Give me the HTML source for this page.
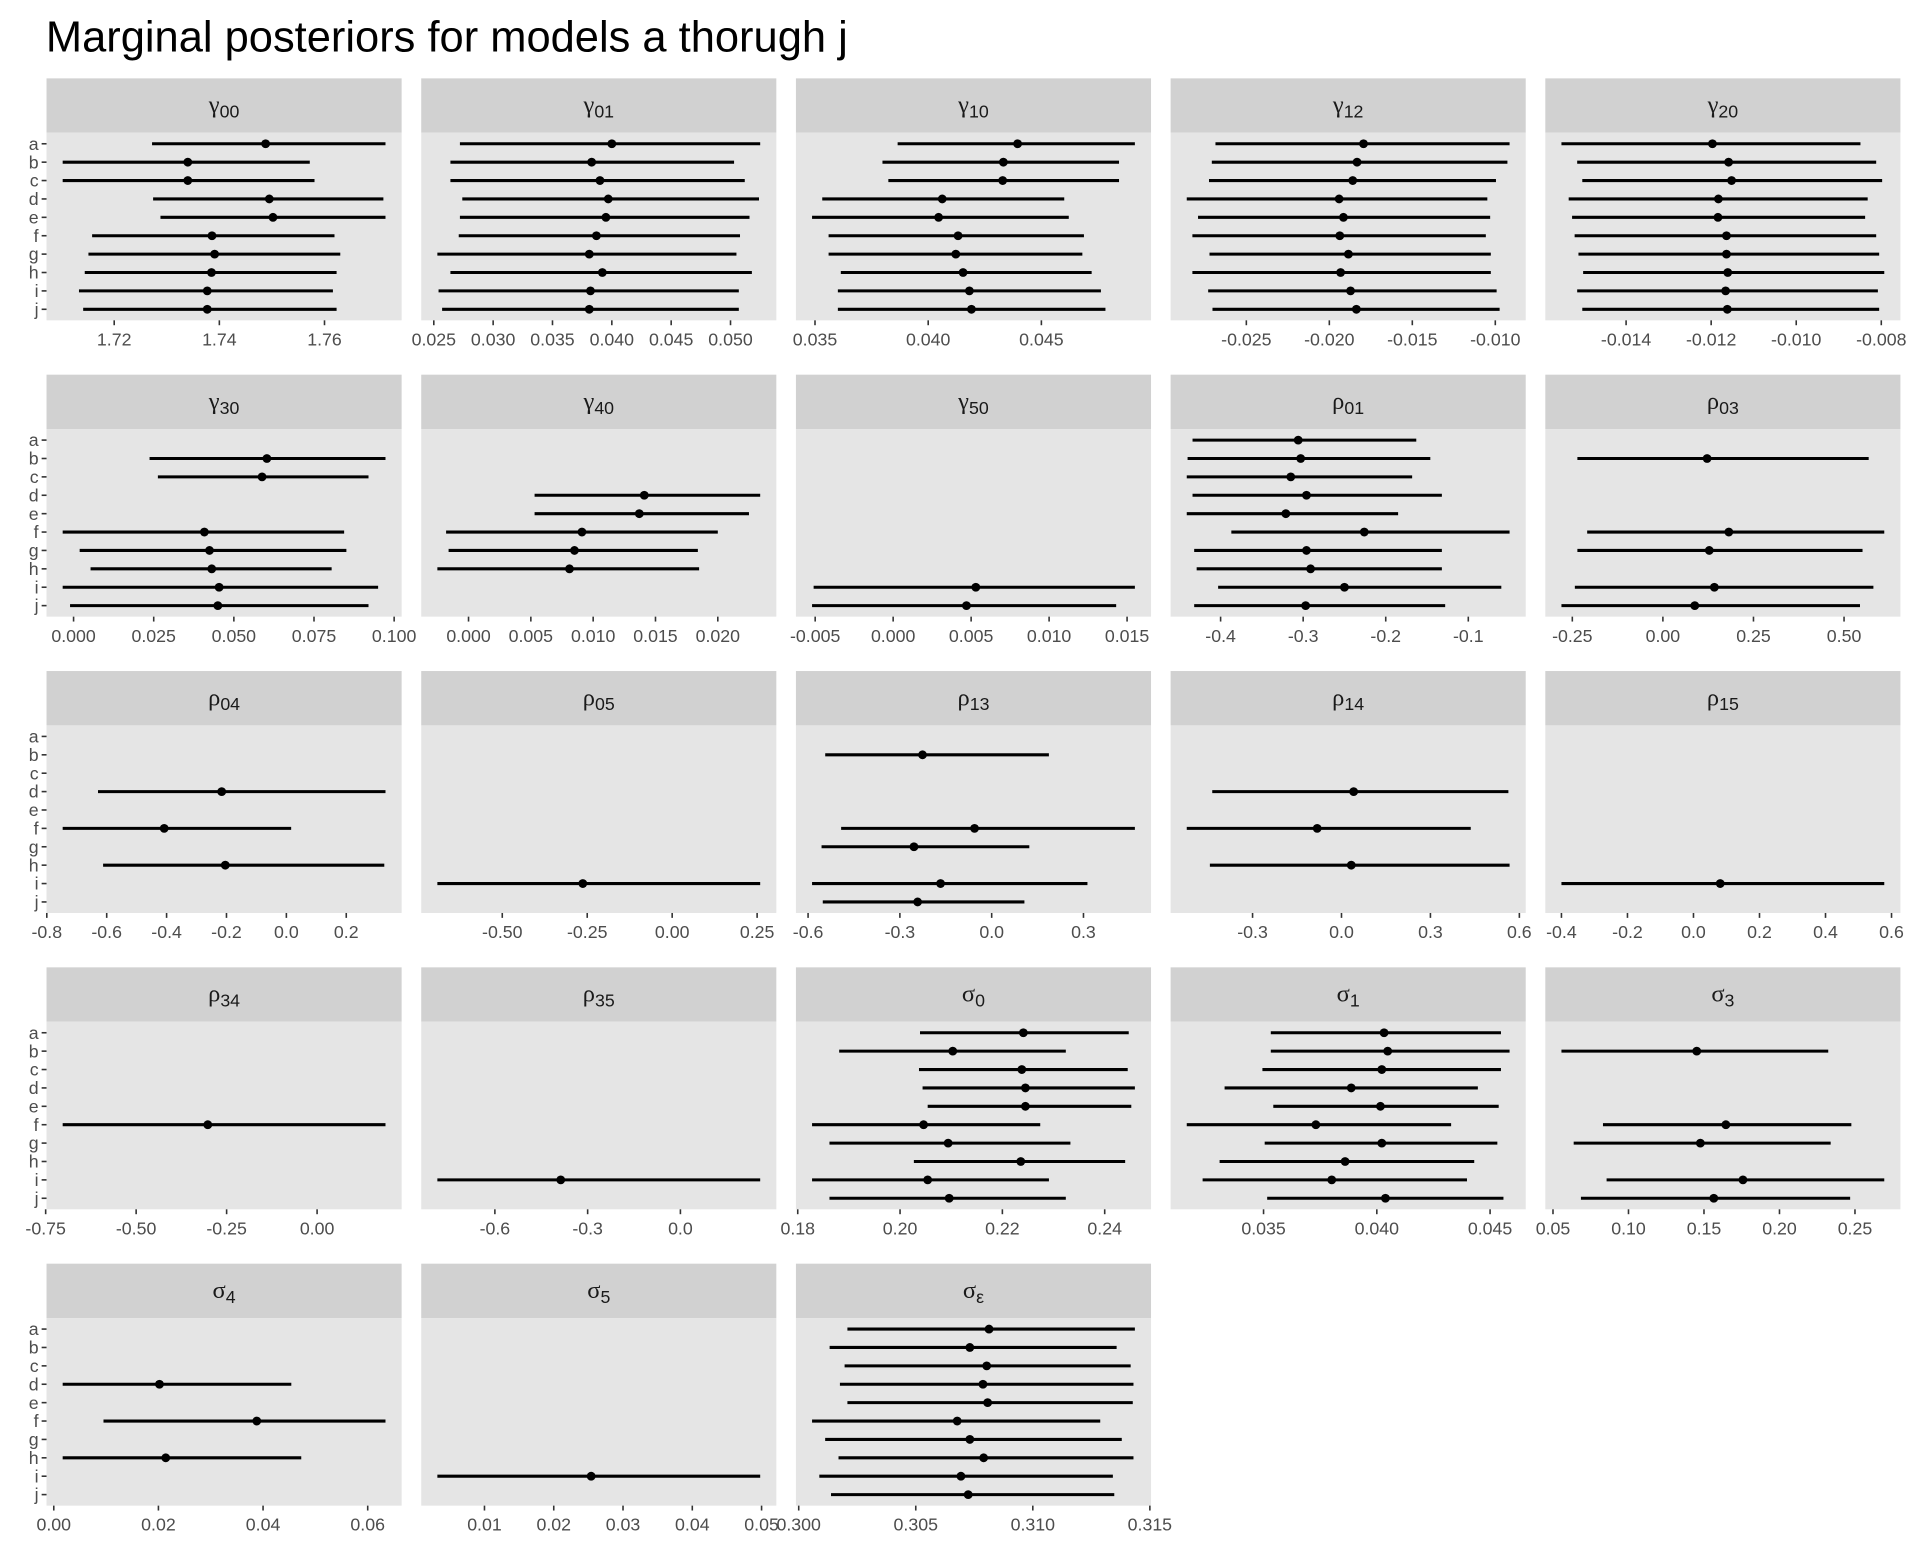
<!DOCTYPE html>
<html><head><meta charset="utf-8"><title>Marginal posteriors</title>
<style>html,body{margin:0;padding:0;background:#fff}svg{display:block}</style></head>
<body>
<svg id="chart" width="1920" height="1560" viewBox="0 0 1568 1274" xmlns="http://www.w3.org/2000/svg">
<rect x="0" y="0" width="1568" height="1274" fill="#ffffff"/>
<text x="37.5" y="42" font-family="Liberation Sans, sans-serif" font-size="35.5" fill="#000">Marginal posteriors for models a thorugh j</text>
<g id="panels"></g>
</svg>
<script>
const N = null;
const models = ['a','b','c','d','e','f','g','h','i','j'];

const g00Lo=[1.7272,1.7102,1.7102,1.7274,1.7288,1.7158,1.7151,1.7144,1.7133,1.7141];
const g00Mid=[1.7488,1.7340,1.7340,1.7495,1.7502,1.7386,1.7391,1.7385,1.7377,1.7377];
const g00Hi=[1.7716,1.7572,1.7581,1.7712,1.7716,1.7619,1.7630,1.7623,1.7616,1.7623];
const g00Ticks=[1.72,1.74,1.76];

const g01Lo=[.0272,.0264,.0264,.0274,.0272,.0271,.0253,.0264,.0254,.0257];
const g01Mid=[.0400,.0383,.0390,.0397,.0395,.0387,.0381,.0392,.0382,.0381];
const g01Hi=[.0525,.0503,.0512,.0524,.0516,.0508,.0505,.0518,.0507,.0507];
const g01Ticks=[.025,.030,.035,.040,.045,.050];

const g10Lo=[.03865,.03798,.03824,.03532,.03487,.03560,.03560,.03614,.03601,.03601];
const g10Mid=[.04395,.04332,.04329,.04062,.04046,.04132,.04122,.04154,.04182,.04191];
const g10Hi=[.04913,.04843,.04843,.04601,.04621,.04688,.04681,.04722,.04763,.04783];
const g10Ticks=[.035,.040,.045];

const g12Lo=[-.02686,-.02708,-.02725,-.02859,-.02791,-.02825,-.02722,-.02825,-.02730,-.02704];
const g12Mid=[-.01794,-.01833,-.01859,-.01941,-.01915,-.01937,-.01885,-.01932,-.01872,-.01837];
const g12Hi=[-.00914,-.00927,-.00996,-.01048,-.01031,-.01057,-.01027,-.01027,-.00992,-.00974];
const g12Ticks=[-.025,-.020,-.015,-.010];

const g20Lo=[-.01552,-.01515,-.01503,-.01535,-.01527,-.01521,-.01512,-.01501,-.01515,-.01503];
const g20Mid=[-.01197,-.01159,-.01152,-.01183,-.01184,-.01164,-.01164,-.01161,-.01166,-.01162];
const g20Hi=[-.00849,-.00812,-.00798,-.00832,-.00838,-.00812,-.00805,-.00793,-.00808,-.00805];
const g20Ticks=[-.014,-.012,-.010,-.008];

const g30Lo=[N,.0237,.0263,N,N,-.0034,.0019,.0053,-.0034,-.0011];
const g30Mid=[N,.0603,.0588,N,N,.0408,.0424,.0431,.0454,.0450];
const g30Hi=[N,.0973,.0920,N,N,.0844,.0851,.0805,.0950,.0920];
const g30Ticks=[0,.025,.05,.075,.1];

const g40Lo=[N,N,N,.0053,.0053,-.0018,-.0016,-.0025,N,N];
const g40Mid=[N,N,N,.0141,.0137,.0091,.0085,.0081,N,N];
const g40Hi=[N,N,N,.0234,.0225,.0200,.0184,.0185,N,N];
const g40Ticks=[0,.005,.010,.015,.020];

const g50Lo=[N,N,N,N,N,N,N,N,-.0051,-.0052];
const g50Mid=[N,N,N,N,N,N,N,N,.0053,.0047];
const g50Hi=[N,N,N,N,N,N,N,N,.0155,.0143];
const g50Ticks=[-.005,0,.005,.010,.015];

const r01Lo=[-.434,-.440,-.441,-.434,-.441,-.387,-.432,-.429,-.403,-.432];
const r01Mid=[-.306,-.303,-.315,-.296,-.321,-.226,-.296,-.291,-.250,-.297];
const r01Hi=[-.163,-.146,-.168,-.132,-.185,-.050,-.132,-.132,-.060,-.128];
const r01Ticks=[-.4,-.3,-.2,-.1];

const r03Lo=[N,-.236,N,N,N,-.209,-.236,N,-.243,-.280];
const r03Mid=[N,.122,N,N,N,.182,.128,N,.142,.088];
const r03Hi=[N,.568,N,N,N,.611,.551,N,.581,.544];
const r03Ticks=[-.25,0,.25,.5];

const r04Lo=[N,N,N,-.629,N,-.747,N,-.612,N,N];
const r04Mid=[N,N,N,-.216,N,-.408,N,-.204,N,N];
const r04Hi=[N,N,N,.331,N,.016,N,.327,N,N];
const r04Ticks=[-.8,-.6,-.4,-.2,0,.2];

const r05Lo=[N,N,N,N,N,N,N,N,-.691,N];
const r05Mid=[N,N,N,N,N,N,N,N,-.263,N];
const r05Hi=[N,N,N,N,N,N,N,N,.259,N];
const r05Ticks=[-.5,-.25,0,.25];

const r13Lo=[N,-.544,N,N,N,-.492,-.556,N,-.587,-.552];
const r13Mid=[N,-.226,N,N,N,-.056,-.254,N,-.167,-.242];
const r13Hi=[N,.187,N,N,N,.468,.123,N,.313,.107];
const r13Ticks=[-.6,-.3,0,.3];

const r14Lo=[N,N,N,-.436,N,-.522,N,-.444,N,N];
const r14Mid=[N,N,N,.041,N,-.082,N,.033,N,N];
const r14Hi=[N,N,N,.563,N,.436,N,.567,N,N];
const r14Ticks=[-.3,0,.3,.6];

const r15Lo=[N,N,N,N,N,N,N,N,-.400,N];
const r15Mid=[N,N,N,N,N,N,N,N,.081,N];
const r15Hi=[N,N,N,N,N,N,N,N,.578,N];
const r15Ticks=[-.4,-.2,0,.2,.4,.6];

const r34Lo=[N,N,N,N,N,-.703,N,N,N,N];
const r34Mid=[N,N,N,N,N,-.302,N,N,N,N];
const r34Hi=[N,N,N,N,N,.189,N,N,N,N];
const r34Ticks=[-.75,-.5,-.25,0];

const r35Lo=[N,N,N,N,N,N,N,N,-.786,N];
const r35Mid=[N,N,N,N,N,N,N,N,-.387,N];
const r35Hi=[N,N,N,N,N,N,N,N,.258,N];
const r35Ticks=[-.6,-.3,0];

const s0Lo=[.2039,.1881,.2037,.2044,.2054,.1828,.1862,.2027,.1828,.1862];
const s0Mid=[.2241,.2103,.2238,.2245,.2245,.2046,.2094,.2236,.2054,.2096];
const s0Hi=[.2447,.2324,.2445,.2459,.2452,.2274,.2333,.2440,.2291,.2324];
const s0Ticks=[.18,.20,.22,.24];

const s1Lo=[.03532,.03532,.03495,.03328,.03543,.03161,.03505,.03306,.03231,.03516];
const s1Mid=[.04032,.04048,.04022,.03887,.04016,.03731,.04022,.03860,.03801,.04038];
const s1Hi=[.04548,.04586,.04548,.04446,.04538,.04328,.04532,.04430,.04398,.04559];
const s1Ticks=[.035,.040,.045];

const s3Lo=[N,.0556,N,N,N,.0831,.0637,N,.0855,.0685];
const s3Mid=[N,.1452,N,N,N,.1645,.1476,N,.1758,.1565];
const s3Hi=[N,.2323,N,N,N,.2476,.2339,N,.2694,.2468];
const s3Ticks=[.05,.10,.15,.20,.25];

const s4Lo=[N,N,N,.0017,N,.0095,N,.0017,N,N];
const s4Mid=[N,N,N,.0202,N,.0388,N,.0214,N,N];
const s4Hi=[N,N,N,.0454,N,.0634,N,.0473,N,N];
const s4Ticks=[0,.02,.04,.06];

const s5Lo=[N,N,N,N,N,N,N,N,.0032,N];
const s5Mid=[N,N,N,N,N,N,N,N,.0254,N];
const s5Hi=[N,N,N,N,N,N,N,N,.0498,N];
const s5Ticks=[.01,.02,.03,.04,.05];

const seLo=[.30208,.30132,.30196,.30176,.30208,.30057,.30113,.30170,.30088,.30138];
const seMid=[.30813,.30731,.30803,.30787,.30807,.30677,.30731,.30790,.30693,.30724];
const seHi=[.31436,.31358,.31418,.31430,.31427,.31288,.31380,.31430,.31342,.31348];
const seTicks=[.300,.305,.310,.315];

const panels = [
 ['gamma-00','γ','00',g00Lo,g00Mid,g00Hi,g00Ticks,2],
 ['gamma-01','γ','01',g01Lo,g01Mid,g01Hi,g01Ticks,3],
 ['gamma-10','γ','10',g10Lo,g10Mid,g10Hi,g10Ticks,3],
 ['gamma-12','γ','12',g12Lo,g12Mid,g12Hi,g12Ticks,3],
 ['gamma-20','γ','20',g20Lo,g20Mid,g20Hi,g20Ticks,3],
 ['gamma-30','γ','30',g30Lo,g30Mid,g30Hi,g30Ticks,3],
 ['gamma-40','γ','40',g40Lo,g40Mid,g40Hi,g40Ticks,3],
 ['gamma-50','γ','50',g50Lo,g50Mid,g50Hi,g50Ticks,3],
 ['rho-01','ρ','01',r01Lo,r01Mid,r01Hi,r01Ticks,1],
 ['rho-03','ρ','03',r03Lo,r03Mid,r03Hi,r03Ticks,2],
 ['rho-04','ρ','04',r04Lo,r04Mid,r04Hi,r04Ticks,1],
 ['rho-05','ρ','05',r05Lo,r05Mid,r05Hi,r05Ticks,2],
 ['rho-13','ρ','13',r13Lo,r13Mid,r13Hi,r13Ticks,1],
 ['rho-14','ρ','14',r14Lo,r14Mid,r14Hi,r14Ticks,1],
 ['rho-15','ρ','15',r15Lo,r15Mid,r15Hi,r15Ticks,1],
 ['rho-34','ρ','34',r34Lo,r34Mid,r34Hi,r34Ticks,2],
 ['rho-35','ρ','35',r35Lo,r35Mid,r35Hi,r35Ticks,1],
 ['sigma-0','σ','0',s0Lo,s0Mid,s0Hi,s0Ticks,2],
 ['sigma-1','σ','1',s1Lo,s1Mid,s1Hi,s1Ticks,3],
 ['sigma-3','σ','3',s3Lo,s3Mid,s3Hi,s3Ticks,2],
 ['sigma-4','σ','4',s4Lo,s4Mid,s4Hi,s4Ticks,2],
 ['sigma-5','σ','5',s5Lo,s5Mid,s5Hi,s5Ticks,2],
 ['sigma-epsilon','σ','ε',seLo,seMid,seHi,seTicks,3]
];

const NS='http://www.w3.org/2000/svg';
const root=document.getElementById('panels');
const colX=[38,344,650,956,1262], rowY=[64,306,548,790,1032];
const PW=290, SH=44.4, PH=153.2;
function mk(tag, attrs, parent){const e=document.createElementNS(NS,tag);for(const k in attrs)e.setAttribute(k,attrs[k]);parent.appendChild(e);return e;}

panels.forEach((p,idx)=>{
  const [name,greek,sub,lo,mid,hi,ticks,dec]=p;
  const col=idx%5,row=Math.floor(idx/5);
  const x0=colX[col], y0=rowY[row], py=y0+SH;
  const g=mk('g',{},root);
  
  
  const strip=mk('rect',{x:x0,y:y0,width:PW,height:SH,fill:'#D1D1D1'},g);
  
  
  const st=mk('text',{x:x0+PW/2,y:y0+28,'text-anchor':'middle','font-family':'Liberation Serif, DejaVu Serif, serif','font-size':'20',fill:'#1A1A1A'},g);
  
  
  st.textContent=greek;
  const ts=mk('tspan',{'font-family':'Liberation Sans, sans-serif','font-size':'14.5',dy:'4'},st);
  ts.textContent=sub;
  const bg=mk('rect',{x:x0,y:py,width:PW,height:PH,fill:'#E5E5E5'},g);
  
  
  let mn=Infinity,mx=-Infinity;
  lo.forEach(v=>{if(v!==null)mn=Math.min(mn,v);});
  hi.forEach(v=>{if(v!==null)mx=Math.max(mx,v);});
  const pad=(mx-mn)*0.05; mn-=pad; mx+=pad;
  const sx=v=>x0+(v-mn)/(mx-mn)*PW;
  const sy=i=>py+(0.6+i)*PH/10.2;
  ticks.forEach(t=>{
    const tx=sx(t);
    const tk=mk('line',{x1:tx,x2:tx,y1:py+PH,y2:py+PH+4,stroke:'#333',"stroke-width":1.3},g);
    
    
    const tl=mk('text',{x:tx,y:py+PH+20.5,'text-anchor':'middle','font-family':'Liberation Sans, sans-serif','font-size':'14.5',fill:'#4D4D4D'},g);
    
    
    tl.textContent=t.toFixed(dec);
  });
  if(col===0){
    models.forEach((m,i)=>{
      const yy=sy(i);
      const yt=mk('line',{x1:x0-4,x2:x0,y1:yy,y2:yy,stroke:'#333',"stroke-width":1.3},g);
      
      
      const yl=mk('text',{x:x0-6.5,y:yy+5,'text-anchor':'end','font-family':'Liberation Sans, sans-serif','font-size':'14.5',fill:'#4D4D4D'},g);
      
      
      yl.textContent=m;
    });
  }
  models.forEach((m,i)=>{
    if(lo[i]===null)return;
    const yy=sy(i);
    const ln=mk('line',{x1:sx(lo[i]),x2:sx(hi[i]),y1:yy,y2:yy,stroke:'#000',"stroke-width":2.5},g);
    
    
    const dt=mk('circle',{cx:sx(mid[i]),cy:yy,r:3.6,fill:'#000'},g);
    
    
  });
});
</script>
</body></html>
